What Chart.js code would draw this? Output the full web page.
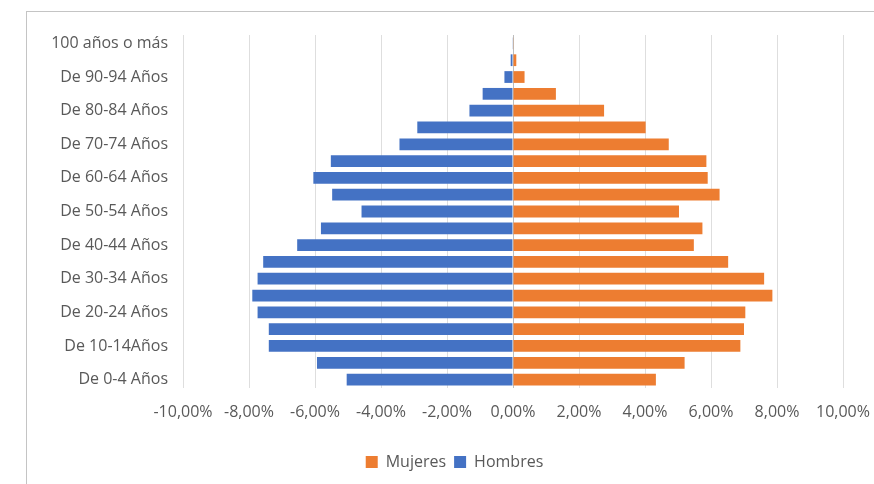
<!DOCTYPE html>
<html>
<head>
<meta charset="utf-8">
<script src="https://cdn.jsdelivr.net/npm/chart.js@4/dist/chart.umd.min.js"></script>
<style>
  html, body { margin: 0; padding: 0; background: #fff; }
  #wrap { position: relative; width: 874px; height: 484px; overflow: hidden; }
  #frame { position: absolute; left: 26px; top: 11px; width: 900px; height: 500px; border: 1px solid #c4c4c4; box-sizing: border-box; }
  #c { position: absolute; left: 0; top: 0; }
</style>
</head>
<body>
<div id="wrap">
  <div id="frame"></div>
  <canvas id="c" width="874" height="484"></canvas>
</div>
<script>
const categories = [
  "De 0-4 Años", "De 5-9 Años", "De 10-14Años", "De 15-19 Años", "De 20-24 Años",
  "De 25-29 Años", "De 30-34 Años", "De 35-39 Años", "De 40-44 Años", "De 45-49 Años",
  "De 50-54 Años", "De 55-59 Años", "De 60-64 Años", "De 65-69 Años", "De 70-74 Años",
  "De 75-79 Años", "De 80-84 Años", "De 85-89 Años", "De 90-94 Años", "De 95-99 Años",
  "100 años o más"
];
const mujeres = [4.33, 5.20, 6.89, 7.00, 7.04, 7.86, 7.61, 6.52, 5.48, 5.74,
                 5.03, 6.26, 5.90, 5.86, 4.72, 4.02, 2.76, 1.30, 0.35, 0.10, 0.02];
const hombres = [-5.04, -5.94, -7.40, -7.40, -7.74, -7.90, -7.74, -7.57, -6.54, -5.82,
                 -4.59, -5.48, -6.05, -5.52, -3.44, -2.90, -1.32, -0.92, -0.26, -0.07, -0.01];
const xTicks = [-10, -8, -6, -4, -2, 0, 2, 4, 6, 8, 10];

const FONT = "'Open Sans', sans-serif";
const GREY = "#595959";

const shiftLegend = {
  id: 'shiftLegend',
  afterLayout(chart) {
    const lg = chart.legend;
    if (lg) { lg.left += 33; lg.right += 33; }
  }
};

new Chart(document.getElementById('c'), {
  type: 'bar',
  data: {
    labels: categories,
    datasets: [
      { label: 'Mujeres', data: mujeres, backgroundColor: '#ED7D31', barPercentage: 0.7, categoryPercentage: 1 },
      { label: 'Hombres', data: hombres, backgroundColor: '#4472C4', barPercentage: 0.7, categoryPercentage: 1 }
    ]
  },
  plugins: [shiftLegend],
  options: {
    indexAxis: 'y',
    responsive: false,
    animation: false,
    layout: { padding: { left: 0, right: 31, top: 35, bottom: 4 } },
    plugins: {
      tooltip: { enabled: false },
      legend: {
        position: 'bottom',
        labels: {
          boxWidth: 12, boxHeight: 12, padding: 8,
          color: GREY, font: { family: FONT, size: 16 }
        }
      }
    },
    scales: {
      x: {
        stacked: true,
        min: -10, max: 10,
        afterBuildTicks: (s) => { s.ticks = xTicks.map(v => ({ value: v })); },
        afterFit: (s) => { s.height = 58; s.paddingLeft = 0; s.paddingRight = 0; },
        ticks: {
          color: GREY, font: { family: FONT, size: 16 }, padding: 15,
          maxRotation: 0, autoSkip: false,
          callback: (v) => v.toFixed(2).replace('.', ',') + '%'
        },
        grid: {
          drawTicks: false,
          color: (ctx) => (ctx.tick && ctx.tick.value === 0) ? '#bdbdbd' : '#dedede'
        },
        border: { display: false }
      },
      y: {
        stacked: true,
        reverse: true,
        afterFit: (s) => { s.width = 183; },
        ticks: {
          color: GREY, font: { family: FONT, size: 16 }, padding: 15, autoSkip: false,
          callback: function (v, i) { return i % 2 === 0 ? this.getLabelForValue(v) : ''; }
        },
        grid: { display: false, drawTicks: false },
        border: { display: false }
      }
    }
  }
});
</script>
</body>
</html>
